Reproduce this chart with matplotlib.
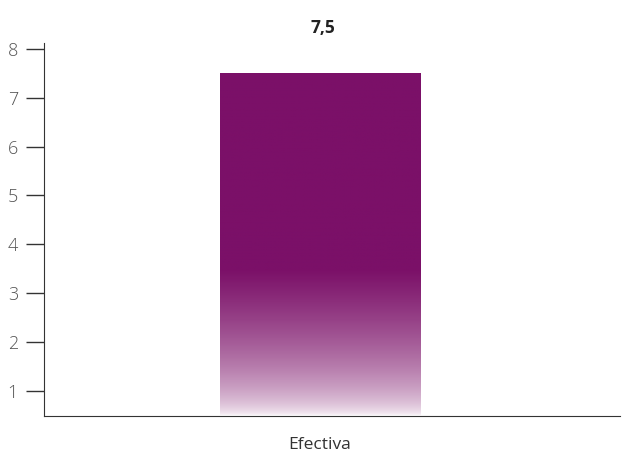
import numpy as np
import matplotlib
matplotlib.use("Agg")
import matplotlib.pyplot as plt
from matplotlib.colors import LinearSegmentedColormap

categories = ["Efectiva"]
values = [7.5]
value_labels = ["7,5"]
yticks = [1, 2, 3, 4, 5, 6, 7, 8]

plt.rcParams['font.family'] = ['Open Sans', 'DejaVu Sans']

purple = "#7B1068"
fig = plt.figure(figsize=(6.34, 4.55), dpi=100)
ax = fig.add_axes([0.0694, 0.0864, 0.9086, 0.8191])

x = np.arange(len(categories))
bars = ax.bar(x, values, width=0.5, bottom=0, color="none", edgecolor="none")

ylo, yhi = 0.49, 8.12
# gradient: solid purple at top, fading to white toward the bottom
cmap = LinearSegmentedColormap.from_list("fade", ["#ffffff", purple])
for b in bars:
    x0, x1 = b.get_x(), b.get_x() + b.get_width()
    top = b.get_height()
    v = np.linspace(ylo, top, 400)
    t = np.clip((v - ylo) / 3.0, 0, 1) ** 0.55
    img = ax.imshow(t[::-1, None], extent=[x0, x1, ylo, top], cmap=cmap,
                    vmin=0, vmax=1, aspect="auto", zorder=2)
    img.set_clip_path(b)

for xi, val, lab in zip(x, values, value_labels):
    ax.annotate(lab, (xi, val), xytext=(2, 29), textcoords="offset points",
                ha="center", va="baseline", fontsize=12.5, fontweight="bold",
                color="#222222")

ax.set_xlim(-0.69, 0.75)
ax.set_ylim(ylo, yhi)
ax.set_yticks(yticks)
ax.set_yticklabels([str(t) for t in yticks])
ax.set_xticks(x)
ax.set_xticklabels(categories)

for s in ["top", "right"]:
    ax.spines[s].set_visible(False)
ax.spines["left"].set_color("#333333")
ax.spines["bottom"].set_color("#333333")
ax.tick_params(axis="y", length=12.7, width=1, color="#333333", labelsize=13,
               labelcolor="#555555", pad=6)
ax.tick_params(axis="x", length=0, labelsize=12.5, labelcolor="#333333", pad=15)
for lab in ax.get_yticklabels():
    lab.set_fontweight("light")

fig.savefig("out.png", dpi=100)
